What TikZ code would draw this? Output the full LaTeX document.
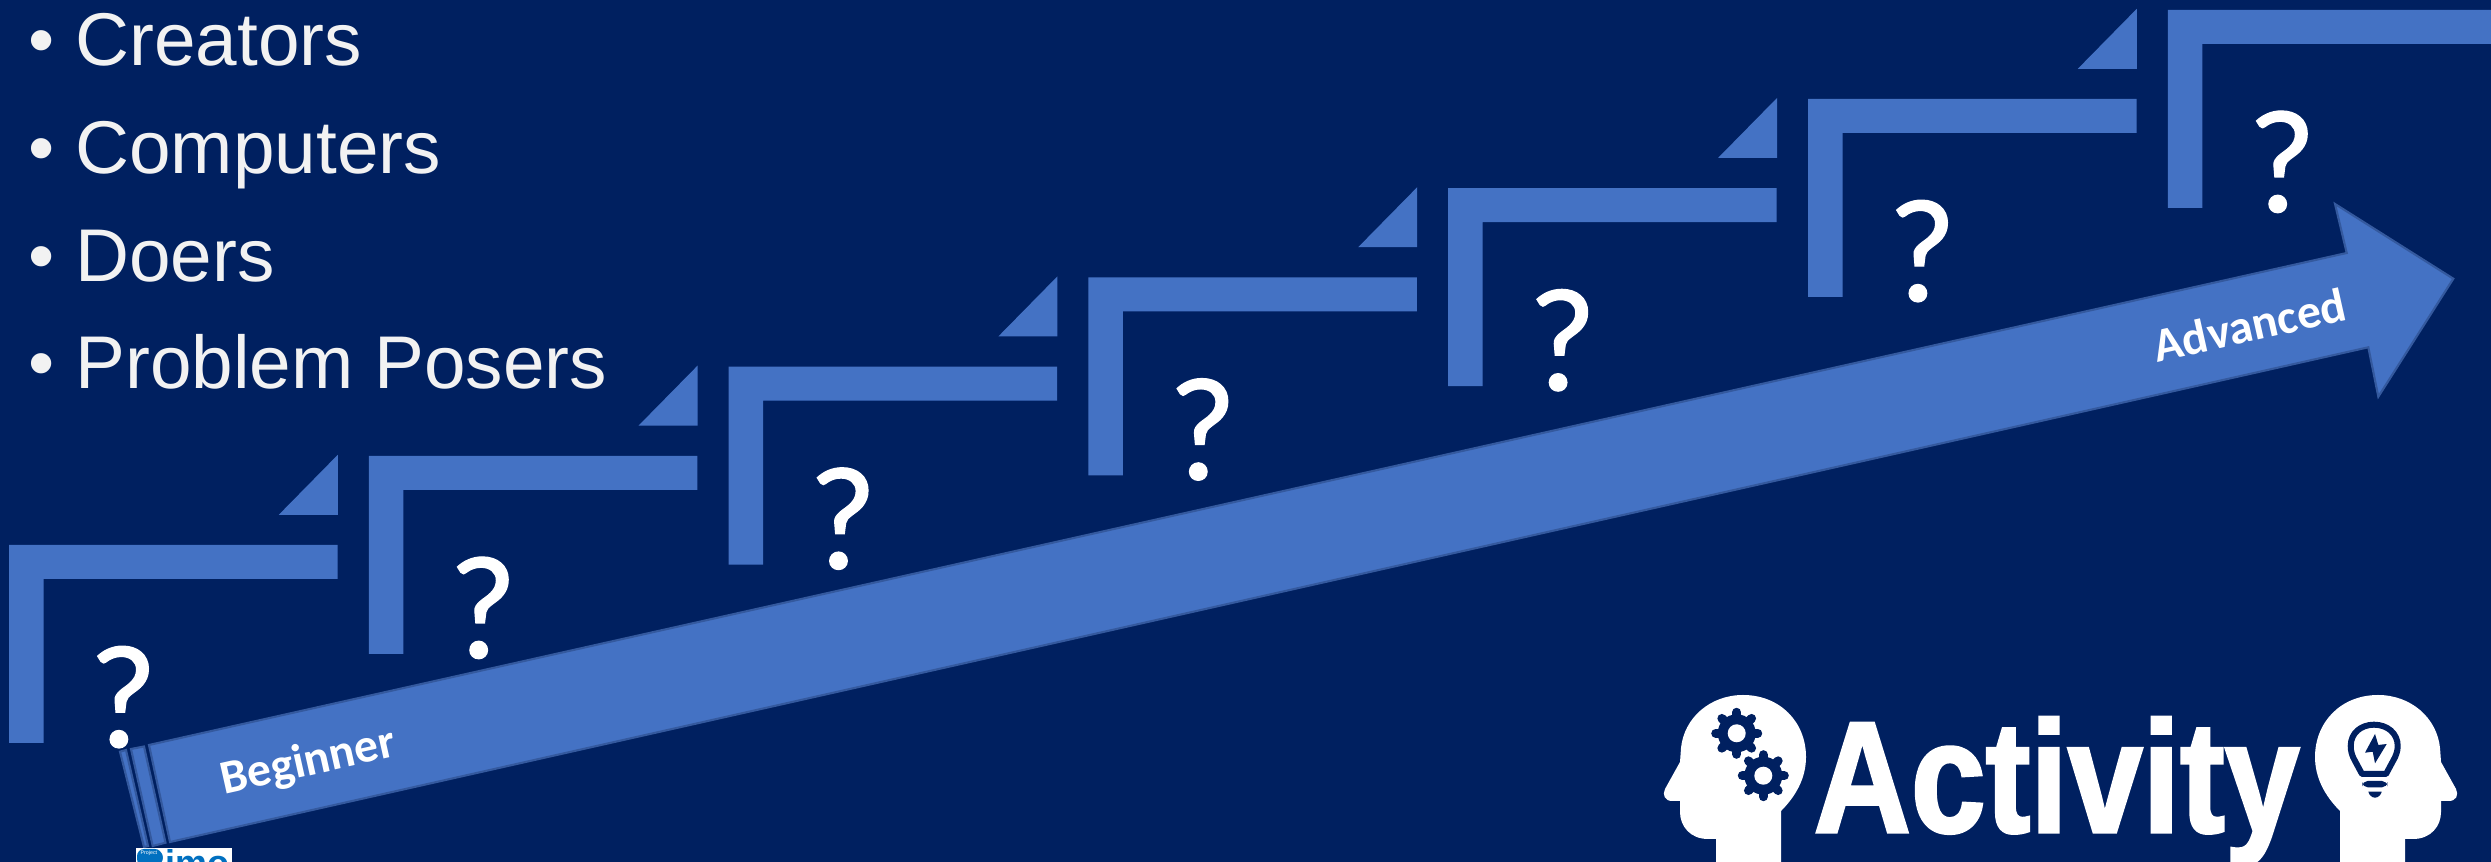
\documentclass[tikz,border=0pt]{standalone}
\usepackage{fontspec}
\setmainfont{Liberation Sans}
\newfontfamily\calibrifont{Carlito}
\newfontfamily\askfont[FakeBold=0.8]{Carlito}
\newfontfamily\activityfont[FakeBold=2]{Liberation Sans}
\usepackage{graphicx}
\definecolor{slidebg}{HTML}{002060}
\definecolor{stepblue}{HTML}{4472C4}
\definecolor{edgeblue}{HTML}{34599E}
\definecolor{listgray}{HTML}{F2F2F2}
\definecolor{rimoblue}{HTML}{0070C0}
\tikzset{
    stepshape/.style={fill=stepblue},
    rampshape/.style={fill=stepblue, draw=edgeblue, line width=0.6pt, line join=miter},
    listitem/.style={anchor=base west, inner sep=0pt, text=listgray, font=\fontsize{21.25}{25}\selectfont},
    askmark/.style={anchor=base, inner sep=0pt, text=white, font=\askfont\fontsize{42}{48}\selectfont},
    ramplabel/.style={inner sep=0pt, rotate=12.6, text=white, font=\calibrifont\bfseries\fontsize{13.6}{16}\selectfont},
    iconink/.style={fill=slidebg}
}
% one head, chin to the left
\newcommand{\headshape}{
    \fill[white] (1743,695) .. controls (1780,695) and (1806,722) .. (1806,757)
        .. controls (1806,778) and (1796,796) .. (1781,811) -- (1781,862) -- (1716,862) -- (1716,839) -- (1708,839)
        .. controls (1690,839) and (1680,826) .. (1680,812) -- (1680,801) -- (1672,801)
        .. controls (1665,801) and (1662,795) .. (1665,789) -- (1680,762) -- (1681,748)
        .. controls (1684,718) and (1710,695) .. (1743,695) -- cycle;
}
\newcommand{\gearicon}[2]{
    \fill[iconink] (#1,#2) circle (19);
    \foreach \a in {0,45,...,315} {
        \draw[slidebg, line width=0.09cm, line cap=round] (#1,#2) ++(\a:14) -- ++(\a:7);
    }
    \fill[white] (#1,#2) circle (9);
}
\begin{document}
\begin{tikzpicture}[x=0.01cm,y=-0.01cm]
    % Background
    \fill[slidebg] (0,0) rectangle (2491,862);
    \clip (0,0) rectangle (2491,862);

    % List
    \foreach \i/\txt/\py in {1/Creators/66, 2/Computers/174, 3/Doers/281.5, 4/Problem Posers/388.5} {
        \node[listitem] (item\i) at (28,\py) {•\hspace{0.206cm}\txt};
    }

    % Steps
    \foreach \i in {0,...,6} {
        \begin{scope}[shift={(\i*359.8,-\i*89.2)}]
            \fill[stepshape] (9,545) -- (337.5,545) -- (337.5,579) -- (43.5,579) -- (43.5,743) -- (9,743) -- cycle;
            \node[askmark] (ask\i) at (123,747) {?};
            \ifnum\i>0
                \fill[stepshape] (-22,544) -- (-22,604) -- (-81,604) -- cycle;
            \fi
        \end{scope}
    }

    % Ramp
    \draw[rampshape] (149,745) -- (2346.7,253) -- (2335,204) -- (2453.3,278.7) -- (2378.3,396.7) -- (2368.3,347.3) -- (170,842) -- cycle;
    \draw[rampshape] (131,749) -- (144,746.5) -- (165.5,842.7) -- (152.7,846) -- cycle;
    \draw[rampshape] (120,751.7) -- (126,750) -- (148,846) -- (144,847) -- cycle;
    \node[ramplabel] (beginner) at (308.5,763) {Beginner};
    \node[ramplabel] (advanced) at (2249.5,325) {Advanced};

    % Logo, cut by the page edge
    \begin{scope}
        \clip (136,848) rectangle (232,862);
        \fill[white] (136,848) rectangle (232,862);
        \node[inner sep=0pt, anchor=base west, text=rimoblue, font=\bfseries\fontsize{10.2}{12}\selectfont] (rimo) at (139,876) {Rimo};
        \fill[rimoblue, rounded corners=2pt] (137,849) rectangle (162,866);
        \node[inner sep=0pt, anchor=base west, text=white, font=\fontsize{1.5}{2}\selectfont] (project) at (140,855) {Project};
    \end{scope}

    % Heads
    \headshape
    \begin{scope}[shift={(4121,0)}, xscale=-1]
        \headshape
    \end{scope}
    \gearicon{1736.7}{733.3}
    \gearicon{1763.3}{775.7}

    % Bulb
    \draw[slidebg, line width=0.06cm, line join=round] (2362,774) -- (2355,761)
        .. controls (2352,756) and (2350.7,751) .. (2350.7,746) .. controls (2350.7,733) and (2361,724.7) .. (2374,724.7)
        .. controls (2387,724.7) and (2397.7,733) .. (2397.7,746) .. controls (2397.7,751) and (2396,756) .. (2393,761)
        -- (2386,774) -- cycle;
    \fill[iconink, rounded corners=1.5pt] (2362.3,781) rectangle (2387.3,787.3);
    \fill[iconink] (2368.3,791.7) -- (2381.7,791.7) .. controls (2381,795) and (2378,797.7) .. (2375,797.7) .. controls (2372,797.7) and (2369,795) .. (2368.3,791.7) -- cycle;
    \fill[iconink] (2375,734) -- (2365,752.7) -- (2372.7,751.7) -- (2375,763.3) -- (2386.7,744) -- (2378.3,745) -- cycle;

    % Title
    \node[inner sep=0pt, anchor=base west, text=white, font=\activityfont\bfseries\fontsize{45}{50}\selectfont] (activity) at (1813,832) {\scalebox{0.85}[1]{Activity}};
\end{tikzpicture}
\end{document}
